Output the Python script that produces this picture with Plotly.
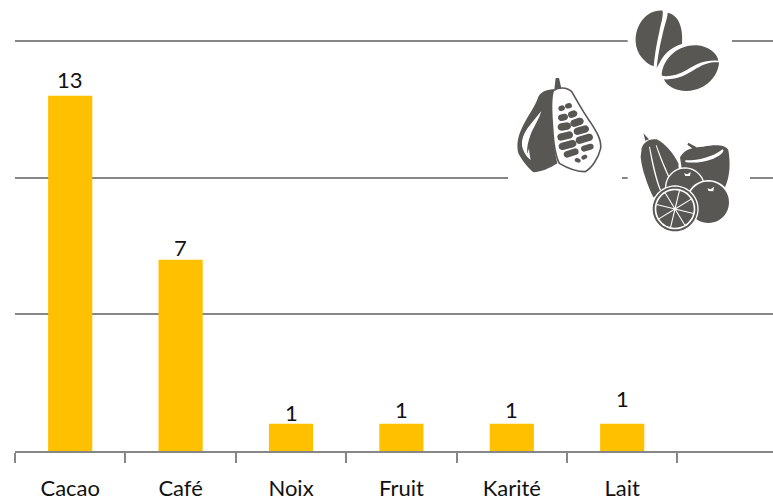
import math
import re
import plotly.graph_objects as go

categories = ["Cacao", "Café", "Noix", "Fruit", "Karité", "Lait"]
values = [13, 7, 1, 1, 1, 1]
label_lift = [0, -4, -5, -2, -2, 9]

W, H = 773, 498
L, R, T, B = 15, 0, 35, 47
Y_TOP = 15.22
GREY = "#868686"
GOLD = "#FFC000"
DARK = "#595754"
FONT = "Lato, Carlito, sans-serif"


def zx(x):
    return ((500 + x / 3) - L) / (W - L - R)


def zy(y):
    return (H - B - y / 3) / (H - T - B)


def conv(path):
    """Icon outlines are written in a 3x sketch space; convert them to paper units."""
    tokens = re.findall(r"[MLCQZ]|-?\d+\.?\d*", path)
    res, pend = "", []
    for t in tokens:
        if t in "MLCQZ":
            res += t
            pend = []
        else:
            pend.append(float(t))
            if len(pend) == 2:
                res += f"{zx(pend[0]):.5f},{zy(pend[1]):.5f} "
                pend = []
    return res


shapes = []


def add(path, fill=DARK, line=None, width=0):
    shapes.append(dict(type="path", xref="paper", yref="paper", path=conv(path),
                       fillcolor=fill, line=dict(color=line or fill, width=width), layer="above"))


def poly(points):
    return "M" + " L".join(f"{x:.1f},{y:.1f}" for x, y in points) + " Z"


def circle(cx, cy, r, n=48):
    return poly([(cx + r * math.cos(2 * math.pi * i / n), cy + r * math.sin(2 * math.pi * i / n)) for i in range(n)])


def capsule(x1, y1, x2, y2, w):
    a = math.atan2(y2 - y1, x2 - x1)
    pts = []
    for i in range(9):
        t = a + math.pi / 2 + math.pi * i / 8
        pts.append((x1 + w * math.cos(t), y1 + w * math.sin(t)))
    for i in range(9):
        t = a - math.pi / 2 + math.pi * i / 8
        pts.append((x2 + w * math.cos(t), y2 + w * math.sin(t)))
    return poly(pts)


# white masks that interrupt the gridlines behind the icons
add("M383,108 L696,108 L696,138 L383,138 Z", "#ffffff")
add("M24,515 L366,515 L366,545 L24,545 Z", "#ffffff")
add("M383,515 L750,515 L750,545 L383,545 Z", "#ffffff")

# coffee beans
add("M488,32 C440,28 405,75 407,125 C408,160 435,190 461,199 C465,160 470,130 478,95 C482,70 490,55 488,32 Z")
add("M503,38 C535,45 550,80 546,132 C520,140 495,155 478,190 C475,195 472,200 470,204 C476,150 485,115 492,85 C497,65 503,50 503,38 Z")
add("M485,224 C490,170 540,133 590,136 C625,138 652,160 655,182 C620,178 590,190 560,210 C535,225 510,230 488,228 Z")
add("M492,238 C530,240 560,225 590,205 C615,190 635,185 657,187 C656,225 620,272 560,273 C525,273 500,258 492,238 Z")

# cacao pod
add("M163,270 L167,234 L177,234 L184,265 Z")
add("M165,268 C140,268 125,275 115,290 C105,320 85,345 70,375 C55,405 48,430 55,460 C65,480 85,505 100,517 C125,515 150,505 172,490 C165,460 160,430 158,390 C155,340 150,300 165,268 Z")
add("M124,333 C95,370 62,400 66,437 C70,458 82,472 92,480 C85,445 85,420 95,395 C105,375 118,355 124,333 Z", "#ffffff")
add("M114,362 C100,392 78,420 82,462 C92,430 100,395 114,362 Z")
add("M160,272 C175,262 200,260 215,275 C230,300 245,330 270,365 C290,395 305,420 302,445 C295,475 275,505 255,515 C225,515 195,500 178,490 C165,465 160,420 158,385 C155,340 150,300 160,272 Z",
    "#ffffff", DARK, 1.6)
for x1, y1, x2, y2, w in [
    (183, 325, 187, 324, 8), (203, 318, 208, 317, 8),
    (184, 353, 194, 351, 10), (214, 344, 222, 341, 10),
    (184, 381, 202, 378, 11), (222, 370, 240, 364, 11),
    (183, 411, 208, 405, 11), (232, 394, 256, 387, 11),
    (187, 439, 218, 431, 11), (238, 421, 268, 412, 11),
    (201, 463, 226, 455, 10), (252, 446, 272, 440, 9),
    (230, 480, 236, 482, 6), (250, 473, 256, 470, 6),
]:
    add(capsule(x1, y1, x2, y2, w))

# fruit group: squash
add("M430,400 L447,418 L436,422 Z")
add("M425,445 C430,425 450,415 470,418 C495,430 520,460 535,490 L540,560 L460,592 C445,560 425,510 422,470 Z")
add("M447,440 C455,490 465,535 480,572 L483,570 C470,535 460,490 450,440 Z", "#ffffff")
add("M467,436 C478,470 490,500 505,532 L508,530 C495,500 482,470 470,436 Z", "#ffffff")
# apple
add("M565,428 L590,442 L584,450 L562,434 Z")
add("M540,472 C555,445 580,442 610,440 C640,434 675,432 685,450 C692,490 690,530 675,562 L600,540 L545,505 Z")
add("M556,481 C590,482 635,474 668,448 C674,452 668,464 640,476 C610,488 575,490 556,486 Z", "#ffffff")
# two oranges
add(circle(555, 562, 60), "#ffffff")
add(circle(555, 562, 56))
add("M552,520 L562,523 L572,516 L570,528 L556,528 Z", "#ffffff")
add(circle(625, 607, 67), "#ffffff")
add(circle(625, 607, 62))
add("M622,565 L632,568 L642,560 L640,574 L626,573 Z", "#ffffff")
# citrus slice
add(circle(525, 627, 71), "#ffffff")
add(circle(525, 627, 67))
add(circle(525, 627, 61), "#ffffff")
add(circle(525, 627, 56))
for i in range(8):
    a = 2 * math.pi * (i + 0.3) / 8
    dx, dy = math.sin(a) * 1.6, math.cos(a) * 1.6
    ex, ey = 525 + 57 * math.cos(a), 627 + 57 * math.sin(a)
    add(poly([(525 + dx, 627 - dy), (525 - dx, 627 + dy), (ex - dx, ey + dy), (ex + dx, ey - dy)]), "#ffffff")

fig = go.Figure(go.Bar(x=categories, y=values, marker=dict(color=GOLD, line=dict(width=0)),
                       width=0.4, hoverinfo="x+y"))

annotations = [
    dict(x=c, y=v, xref="x", yref="y", text=str(v), showarrow=False, yanchor="bottom",
         yshift=1 + lift, font=dict(family=FONT, size=22, color="#111111"))
    for c, v, lift in zip(categories, values, label_lift)
]

fig.update_layout(
    width=W, height=H,
    margin=dict(l=L, r=R, t=T, b=B, autoexpand=False),
    paper_bgcolor="#ffffff", plot_bgcolor="#ffffff",
    showlegend=False, bargap=0.6,
    xaxis=dict(type="category", categoryorder="array", categoryarray=categories,
               range=[-0.5, 6.366], tickson="boundaries", ticks="outside", ticklen=10,
               tickwidth=2, tickcolor=GREY, showline=True, linecolor=GREY, linewidth=2,
               showgrid=False, zeroline=False, ticklabelstandoff=17,
               tickfont=dict(family=FONT, size=22, color="#111111")),
    yaxis=dict(range=[0, Y_TOP], tickmode="array", tickvals=[5, 10, 15], showticklabels=False,
               ticks="", showgrid=True, gridcolor=GREY, gridwidth=2, zeroline=False, showline=False),
    shapes=shapes,
    annotations=annotations,
)

fig.write_html("out.html", config={"displayModeBar": False},
               post_script="document.body.style.margin='0';document.documentElement.style.overflow='hidden';window.dispatchEvent(new Event('resize'));")
